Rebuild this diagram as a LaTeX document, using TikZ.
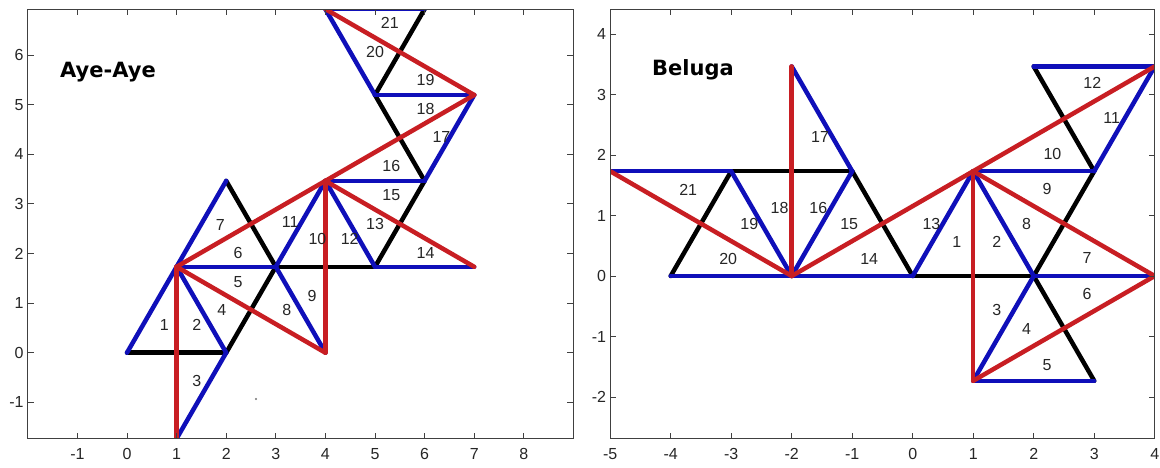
\documentclass[tikz,border=0pt]{standalone}
\usepackage{fontspec}
\setmainfont{Liberation Sans}
\newfontfamily\titlefont{DejaVu Sans}
\definecolor{myblue}{RGB}{15,15,185}
\definecolor{myred}{RGB}{200,30,35}
\begin{document}
\begin{tikzpicture}[x=1pt,y=-1pt,
  edge/.style={line width=4.5pt,line cap=round,line join=round},
  blk/.style={edge,draw=black},
  blu/.style={edge,draw=myblue},
  rd/.style={edge,draw=myred},
  num/.style={font=\fontsize{16}{16}\selectfont,text=black!85,inner sep=0pt},
  tickmark/.style={line width=0.9pt,draw=black!75},
  axbox/.style={line width=1pt,draw=black!75},
  titlelab/.style={font=\titlefont\bfseries\fontsize{21}{21}\selectfont,anchor=base west,inner sep=0pt}]
\useasboundingbox (0,0) rectangle (1160,467);
\fill[white] (0,0) rectangle (1160,467);
\def\s{1.7320508}
% ---------------- Left plot: Aye-Aye ----------------
\begin{scope}[shift={(127,352.7)},x=49.6pt,y=49.6pt]
  \coordinate (a0) at (0,0);
  \coordinate (a1) at (2,0);
  \coordinate (a2) at (1,\s);
  \coordinate (a3) at (1,-\s);
  \coordinate (a4) at (3,\s);
  \coordinate (a5) at (2,2*\s);
  \coordinate (a6) at (4,2*\s);
  \coordinate (a7) at (4,0);
  \coordinate (a8) at (5,\s);
  \coordinate (a9) at (7,\s);
  \coordinate (a10) at (6,2*\s);
  \coordinate (a11) at (5,3*\s);
  \coordinate (a12) at (7,3*\s);
  \coordinate (a13) at (4,4*\s);
  \coordinate (a14) at (6,4*\s);
  \begin{scope}
    \clip (-2,-\s) rectangle (9,4*\s);
    \draw[blk] (a0) -- (a1);
    \draw[blk] (a1) -- (a4);
    \draw[blk] (a4) -- (a8);
    \draw[blk] (a5) -- (a4);
    \draw[blk] (a8) -- (a10);
    \draw[blk] (a10) -- (a11);
    \draw[blk] (a11) -- (a14);
    \draw[blu] (a0) -- (a2);
    \draw[blu] (a2) -- (a1);
    \draw[blu] (a1) -- (a3);
    \draw[blu] (a2) -- (a5);
    \draw[blu] (a2) -- (a4);
    \draw[blu] (a4) -- (a7);
    \draw[blu] (a4) -- (a6);
    \draw[blu] (a6) -- (a8);
    \draw[blu] (a6) -- (a10);
    \draw[blu] (a8) -- (a9);
    \draw[blu] (a10) -- (a12);
    \draw[blu] (a11) -- (a12);
    \draw[blu] (a11) -- (a13);
    \draw[blu] (a13) -- (a14);
    \draw[rd] (a3) -- (a2);
    \draw[rd] (a2) -- (a7);
    \draw[rd] (a2) -- (a6);
    \draw[rd] (a7) -- (a6);
    \draw[rd] (a6) -- (a9);
    \draw[rd] (a6) -- (a12);
    \draw[rd] (a12) -- (a13);
  \end{scope}
  \draw[axbox] (-2,-\s) rectangle (9,4*\s);
  \foreach \x in {-1,...,8} {
    \draw[tickmark] (\x,-\s) -- ++(0,6pt);
    \draw[tickmark] (\x,4*\s) -- ++(0,-6pt);
    \node[num,anchor=base] (lx\x) at ([yshift=-21pt]\x,-\s) {\x};
  }
  \foreach \y in {-1,...,6} {
    \draw[tickmark] (-2,\y) -- ++(6pt,0);
    \draw[tickmark] (9,\y) -- ++(-6pt,0);
    \node[num,anchor=east] (ly\y) at ([xshift=-4pt]-2,\y) {\y};
  }
  \foreach \n/\px/\py in {1/0.75/0.56, 2/1.41/0.56, 3/1.41/-0.58, 4/1.91/0.86,
     5/2.24/1.43, 6/2.24/2.02, 7/1.88/2.57, 8/3.22/0.86, 9/3.73/1.15,
     10/3.84/2.30, 11/3.29/2.63, 12/4.49/2.30, 13/5.0/2.59, 14/6.02/2.02,
     15/5.33/3.17, 16/5.33/3.76, 17/6.34/4.35, 18/6.02/4.92, 19/6.02/5.49,
     20/5.0/6.06, 21/5.3/6.64} {
    \node[num] (la\n) at (\px,\py) {\n};
  }
\end{scope}
% ---------------- Right plot: Beluga ----------------
\begin{scope}[shift={(912.7,276)},x=60.5pt,y=60.5pt]
  \coordinate (b0) at (0,0);
  \coordinate (b1) at (1,\s);
  \coordinate (b2) at (2,0);
  \coordinate (b3) at (1,-\s);
  \coordinate (b4) at (3,-\s);
  \coordinate (b5) at (4,0);
  \coordinate (b6) at (3,\s);
  \coordinate (b7) at (2,2*\s);
  \coordinate (b8) at (4,2*\s);
  \coordinate (b9) at (-1,\s);
  \coordinate (b10) at (-2,0);
  \coordinate (b11) at (-2,2*\s);
  \coordinate (b12) at (-3,\s);
  \coordinate (b13) at (-4,0);
  \coordinate (b14) at (-5,\s);
  \begin{scope}
    \clip (-5,-2.694) rectangle (4,4.413);
    \draw[blk] (b0) -- (b2);
    \draw[blk] (b2) -- (b4);
    \draw[blk] (b2) -- (b6);
    \draw[blk] (b6) -- (b7);
    \draw[blk] (b0) -- (b9);
    \draw[blk] (b9) -- (b12);
    \draw[blk] (b12) -- (b13);
    \draw[blu] (b14) -- (b12);
    \draw[blu] (b13) -- (b10);
    \draw[blu] (b10) -- (b0);
    \draw[blu] (b12) -- (b10);
    \draw[blu] (b10) -- (b9);
    \draw[blu] (b9) -- (b11);
    \draw[blu] (b0) -- (b1);
    \draw[blu] (b1) -- (b2);
    \draw[blu] (b2) -- (b3);
    \draw[blu] (b3) -- (b4);
    \draw[blu] (b2) -- (b5);
    \draw[blu] (b1) -- (b6);
    \draw[blu] (b6) -- (b8);
    \draw[blu] (b7) -- (b8);
    \draw[rd] (b14) -- (b10);
    \draw[rd] (b10) -- (b11);
    \draw[rd] (b10) -- (b1);
    \draw[rd] (b1) -- (b3);
    \draw[rd] (b1) -- (b5);
    \draw[rd] (b3) -- (b5);
    \draw[rd] (b1) -- (b8);
  \end{scope}
  \draw[axbox] (-5,-2.694) rectangle (4,4.413);
  \foreach \x in {-5,...,4} {
    \draw[tickmark] (\x,-2.694) -- ++(0,6pt);
    \draw[tickmark] (\x,4.413) -- ++(0,-6pt);
    \node[num,anchor=base] (rx\x) at ([yshift=-21pt]\x,-2.694) {\x};
  }
  \foreach \y in {-2,...,4} {
    \draw[tickmark] (-5,\y) -- ++(6pt,0);
    \draw[tickmark] (4,\y) -- ++(-6pt,0);
    \node[num,anchor=east] (ry\y) at ([xshift=-4pt]-5,\y) {\y};
  }
  \foreach \n/\px/\py in {1/0.73/0.57, 2/1.39/0.57, 3/1.39/-0.56, 4/1.88/-0.88,
     5/2.22/-1.47, 6/2.88/-0.29, 7/2.88/0.29, 8/1.88/0.86, 9/2.22/1.44,
     10/2.31/2.02, 11/3.29/2.61, 12/2.97/3.19, 13/0.31/0.86, 14/-0.72/0.28,
     15/-1.05/0.86, 16/-1.56/1.13, 17/-1.53/2.30, 18/-2.2/1.13, 19/-2.7/0.86,
     20/-3.05/0.28, 21/-3.71/1.42} {
    \node[num] (lb\n) at (\px,\py) {\n};
  }
\end{scope}
\node[titlelab] (t1) at (60,77) {Aye-Aye};
\node[titlelab] (t2) at (652,75) {Beluga};
\fill[black!55] (256,399) circle (1.1pt);
\end{tikzpicture}
\end{document}
